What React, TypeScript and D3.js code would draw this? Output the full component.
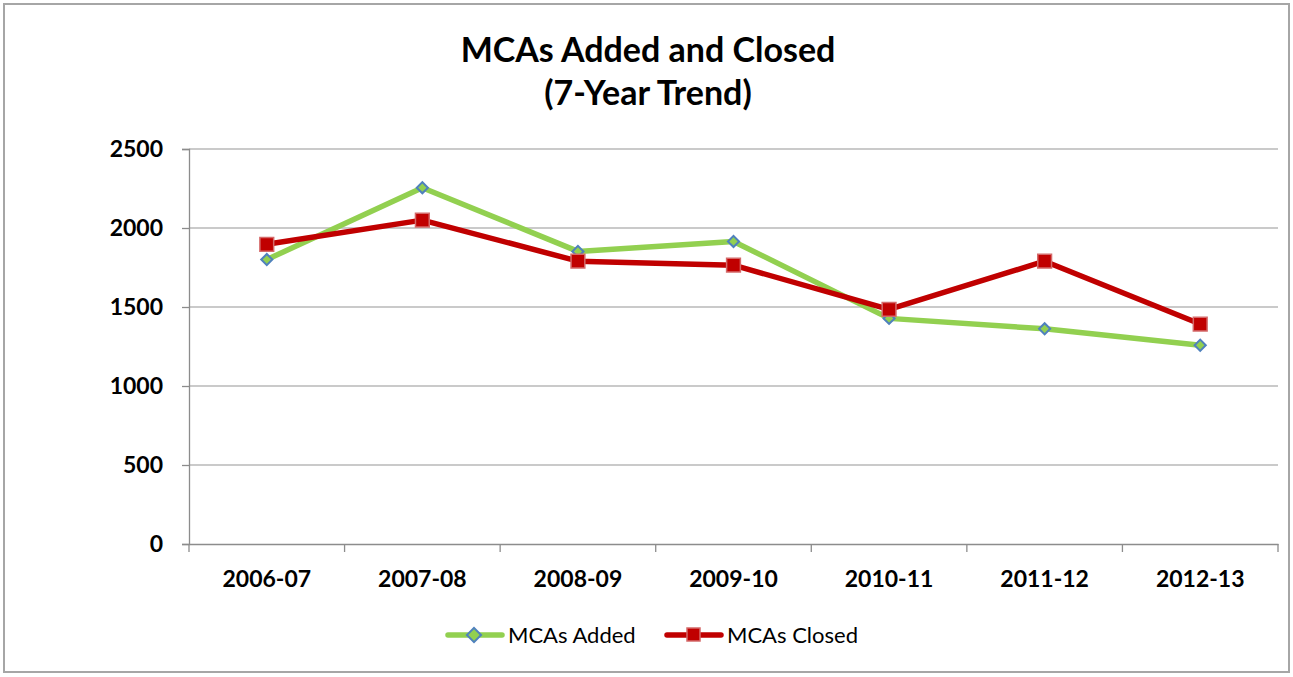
import { useEffect, useRef } from "react";
import * as d3 from "d3";

const WIDTH = 1293;
const HEIGHT = 677;
const MARGIN = { top: 149, right: 15, bottom: 133, left: 189 };
const FONT = "Lato, 'Open Sans', sans-serif";

const years = ["2006-07", "2007-08", "2008-09", "2009-10", "2010-11", "2011-12", "2012-13"];
const mcasAdded = [1800, 2255, 1852, 1915, 1428, 1362, 1258];
const mcasClosed = [1897, 2050, 1790, 1765, 1485, 1790, 1392];
const yTicks = [0, 500, 1000, 1500, 2000, 2500];

const GREEN = "#92d050";
const RED = "#c00000";

const App = () => {
  const ref = useRef<SVGGElement | null>(null);
  const boundsWidth = 1278 - MARGIN.left;
  const boundsHeight = 544 - MARGIN.top;

  const xScale = d3.scaleBand().domain(years).range([0, boundsWidth]);
  const yScale = d3.scaleLinear().domain([0, 2500]).range([boundsHeight, 0]);

  useEffect(() => {
    const g = d3.select(ref.current);
    g.selectAll("*").remove();

    // gridlines
    g.append("g")
      .selectAll("line")
      .data(yTicks.filter((t) => t > 0))
      .join("line")
      .attr("x1", 0)
      .attr("x2", boundsWidth)
      .attr("y1", (d) => yScale(d))
      .attr("y2", (d) => yScale(d))
      .attr("stroke", "#b9b9b9")
      .attr("stroke-width", 1.3);

    // y axis
    const yAxis = g.append("g").call(
      d3.axisLeft(yScale).tickValues(yTicks).tickSize(7).tickPadding(19).tickFormat(d3.format("d"))
    );
    yAxis.select(".domain").attr("stroke", "#8c8c8c").attr("stroke-width", 1.3);
    yAxis.selectAll(".tick line").attr("stroke", "#8c8c8c").attr("stroke-width", 1.3);
    yAxis
      .selectAll(".tick text")
      .attr("font-family", FONT)
      .attr("font-weight", "bold")
      .attr("font-size", 23)
      .attr("fill", "#000");

    // x axis
    const xAxis = g
      .append("g")
      .attr("transform", `translate(0,${boundsHeight})`)
      .call(d3.axisBottom(xScale).tickSize(0).tickPadding(27));
    xAxis.select(".domain").attr("stroke", "#8c8c8c").attr("stroke-width", 1.3);
    xAxis
      .selectAll(".tick text")
      .attr("font-family", FONT)
      .attr("font-weight", "bold")
      .attr("font-size", 23)
      .attr("fill", "#000");
    // category boundary ticks
    xAxis
      .append("g")
      .selectAll("line")
      .data(years.concat(["end"]))
      .join("line")
      .attr("x1", (_d, i) => i * xScale.bandwidth())
      .attr("x2", (_d, i) => i * xScale.bandwidth())
      .attr("y1", 0)
      .attr("y2", 8)
      .attr("stroke", "#8c8c8c")
      .attr("stroke-width", 1.3);

    const cx = (i: number) => (xScale(years[i]) ?? 0) + xScale.bandwidth() / 2;
    const line = d3
      .line<number>()
      .x((_d, i) => cx(i))
      .y((d) => yScale(d));

    g.append("path")
      .attr("d", line(mcasAdded))
      .attr("fill", "none")
      .attr("stroke", GREEN)
      .attr("stroke-width", 5.5)
      .attr("stroke-linejoin", "round");
    g.append("path")
      .attr("d", line(mcasClosed))
      .attr("fill", "none")
      .attr("stroke", RED)
      .attr("stroke-width", 5.5)
      .attr("stroke-linejoin", "round");

    const diamond = d3.symbol().type(d3.symbolSquare).size(62);
    g.append("g")
      .selectAll("path")
      .data(mcasAdded)
      .join("path")
      .attr("d", diamond())
      .attr("transform", (d, i) => `translate(${cx(i)},${yScale(d)}) rotate(45)`)
      .attr("fill", GREEN)
      .attr("stroke", "#4f81bd")
      .attr("stroke-width", 2);

    const square = d3.symbol().type(d3.symbolSquare).size(190);
    g.append("g")
      .selectAll("path")
      .data(mcasClosed)
      .join("path")
      .attr("d", square())
      .attr("transform", (d, i) => `translate(${cx(i)},${yScale(d)})`)
      .attr("fill", RED)
      .attr("stroke", "#d46a6a")
      .attr("stroke-width", 1.5);
  }, []);

  return (
    <svg width={WIDTH} height={HEIGHT} style={{ display: "block", position: "absolute", left: 0, top: 0 }}>
      <rect x={0} y={0} width={WIDTH} height={HEIGHT} fill="#fff" />
      <rect x={4} y={4} width={1285} height={668} fill="#fff" stroke="#a6a6a6" strokeWidth={2} />
      <text x={648} y={62} textAnchor="middle" fontFamily={FONT} fontWeight="bold" fontSize={34}>
        MCAs Added and Closed
      </text>
      <text x={648} y={105} textAnchor="middle" fontFamily={FONT} fontWeight="bold" fontSize={34}>
        (7-Year Trend)
      </text>
      <g ref={ref} transform={`translate(${MARGIN.left},${MARGIN.top})`} />
      <g fontFamily={FONT} fontSize={22}>
        <line x1={448} x2={502} y1={635} y2={635} stroke={GREEN} strokeWidth={5.5} strokeLinecap="round" />
        <rect x={469} y={630} width={10} height={10} transform="rotate(45 474 635)" fill={GREEN} stroke="#4f81bd" strokeWidth={2} />
        <text x={508} y={643}>MCAs Added</text>
        <line x1={667} x2={721} y1={635} y2={635} stroke={RED} strokeWidth={5.5} strokeLinecap="round" />
        <rect x={687} y={628} width={13} height={13} fill={RED} stroke="#d46a6a" strokeWidth={1.5} />
        <text x={727} y={643}>MCAs Closed</text>
      </g>
    </svg>
  );
};

export default App;
